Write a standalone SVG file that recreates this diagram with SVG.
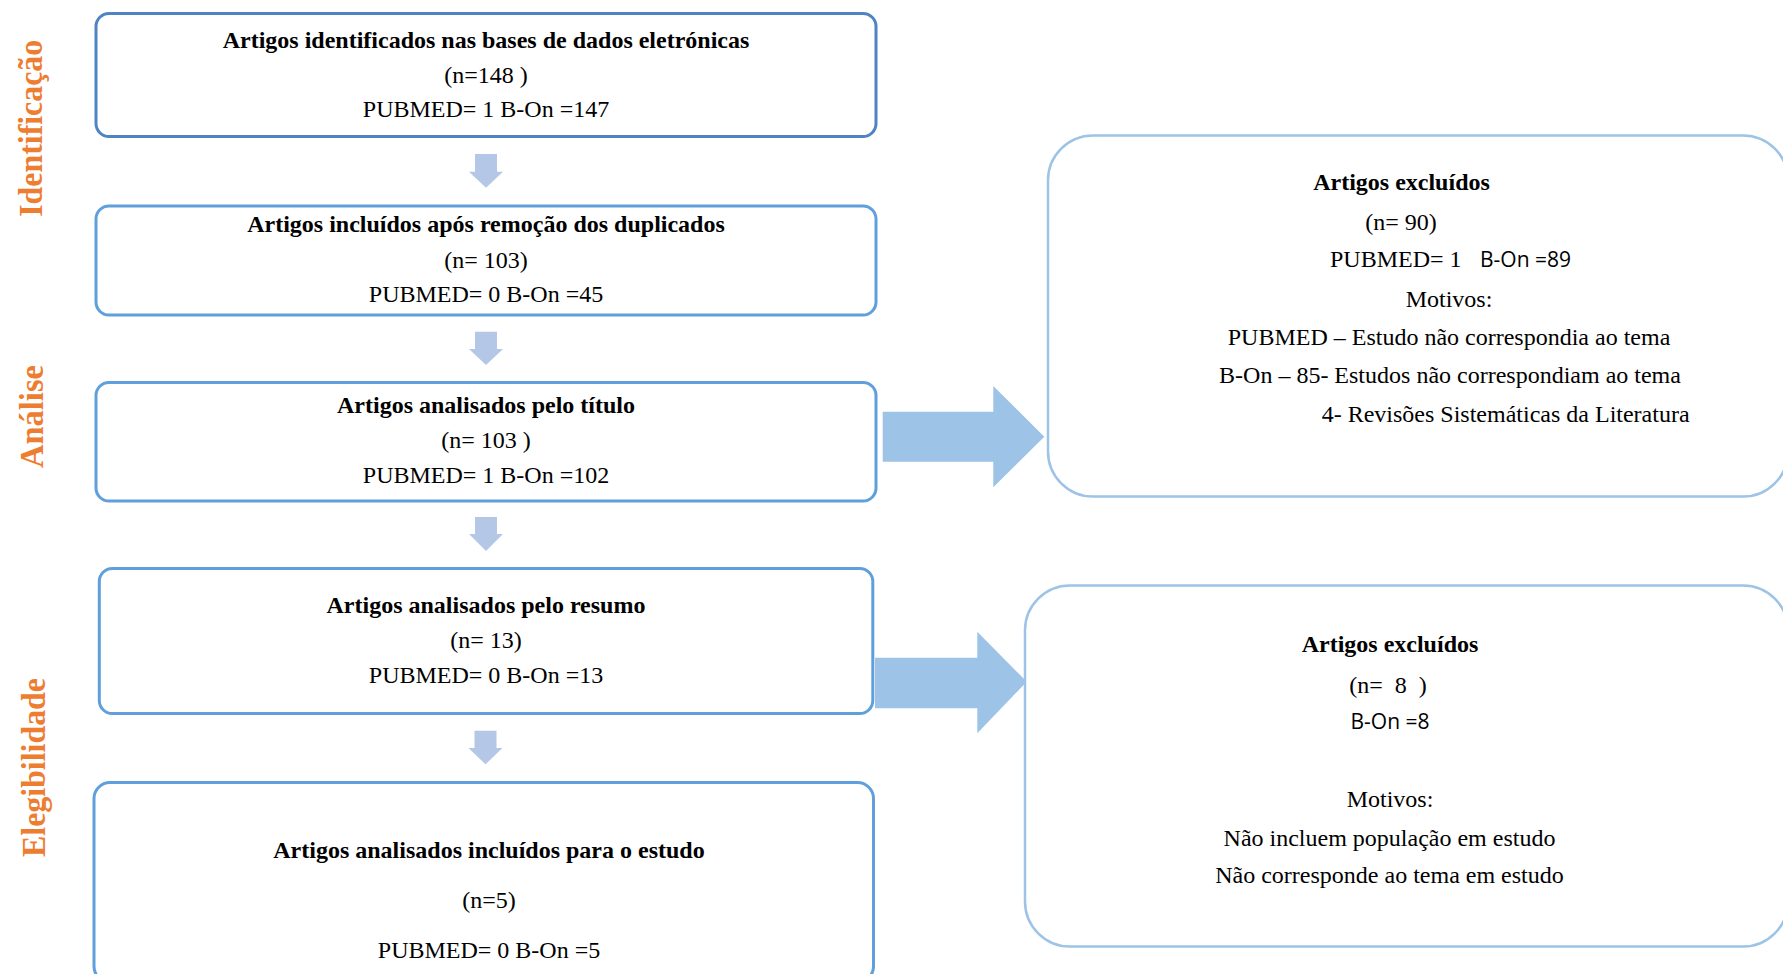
<svg xmlns="http://www.w3.org/2000/svg" width="1783" height="974" viewBox="0 0 1783 974">
<style>
.bg{fill:#ffffff}
.lbox{fill:#ffffff;stroke:#5FA0DC;stroke-width:3}
.lbox1{fill:#ffffff;stroke:#4E84C4;stroke-width:3}
.rbox{fill:#ffffff;stroke:#9DC3E6;stroke-width:2.5}
text{font-family:"Liberation Serif","Times New Roman",serif;font-size:24px;fill:#000000;white-space:pre}
.b{font-weight:bold}
.m{text-anchor:middle}
.sans{font-family:"Open Sans","Liberation Sans",sans-serif;font-size:21px}
.stage{font-weight:bold;font-size:33px;fill:#ED7D31;text-anchor:middle}
.down{fill:#B4C7E7}
.big{fill:#9DC3E6}
</style>
<rect class="bg" x="0" y="0" width="1783" height="974"/>

<g id="stage-labels">
<text class="stage" transform="translate(42,128.3) rotate(-90)" textLength="177" lengthAdjust="spacingAndGlyphs">Identificação</text>
<text class="stage" transform="translate(42.5,416.5) rotate(-90)" textLength="103" lengthAdjust="spacingAndGlyphs">Análise</text>
<text class="stage" transform="translate(45,767.5) rotate(-90)" textLength="179" lengthAdjust="spacingAndGlyphs">Elegibilidade</text>
</g>

<g id="connectors">
<polygon class="down" points="475,154 497,154 497,171.7 503,171.7 486,187.7 469,171.7 475,171.7"/>
<polygon class="down" points="475,331.7 497,331.7 497,349 503,349 486,365 469,349 475,349"/>
<polygon class="down" points="475,517 497,517 497,534 503,534 486,551 469,534 475,534"/>
<polygon class="down" points="474.5,730.7 496.5,730.7 496.5,748 502.5,748 485.5,764.3 468.5,748 474.5,748"/>
<polygon class="big" points="882.7,411.7 993.3,411.7 993.3,386 1044.3,436.7 993.3,487.3 993.3,461.7 882.7,461.7"/>
<polygon class="big" points="875,657.7 977.3,657.7 977.3,631.7 1026.7,681.7 977.3,733.3 977.3,708.3 875,708.3"/>
</g>

<g id="box-identificados">
<rect class="lbox1" x="96" y="13.5" width="780" height="123" rx="13"/>
<text class="b m" x="486" y="48.3">Artigos identificados nas bases de dados eletrónicas</text>
<text class="m" x="486" y="83.3">(n=148 )</text>
<text class="m" x="486" y="116.7">PUBMED= 1 B-On =147</text>
</g>

<g id="box-duplicados">
<rect class="lbox" x="96" y="206" width="780" height="109" rx="13"/>
<text class="b m" x="486" y="232.3">Artigos incluídos após remoção dos duplicados</text>
<text class="m" x="486" y="268.3">(n= 103)</text>
<text class="m" x="486" y="301.7">PUBMED= 0 B-On =45</text>
</g>

<g id="box-titulo">
<rect class="lbox" x="96" y="382.5" width="780" height="118.5" rx="13"/>
<text class="b m" x="486" y="413.3">Artigos analisados pelo título</text>
<text class="m" x="486" y="448.3">(n= 103 )</text>
<text class="m" x="486" y="483.3">PUBMED= 1 B-On =102</text>
</g>

<g id="box-resumo">
<rect class="lbox" x="99.3" y="568.5" width="773.5" height="145" rx="13"/>
<text class="b m" x="486" y="613.3">Artigos analisados pelo resumo</text>
<text class="m" x="486" y="648.3">(n= 13)</text>
<text class="m" x="486" y="682.7">PUBMED= 0 B-On =13</text>
</g>

<g id="box-incluidos">
<rect class="lbox" x="94" y="782.5" width="779.5" height="200" rx="16"/>
<text class="b m" x="489" y="858.3">Artigos analisados incluídos para o estudo</text>
<text class="m" x="489" y="908.3">(n=5)</text>
<text class="m" x="489" y="958.3">PUBMED= 0 B-On =5</text>
</g>

<g id="box-excluidos-1">
<rect class="rbox" x="1048" y="135.5" width="740" height="361" rx="45"/>
<text class="b m" x="1401.5" y="190">Artigos excluídos</text>
<text class="m" x="1401" y="230">(n= 90)</text>
<text x="1330" y="266.7">PUBMED= 1</text>
<text class="sans" x="1480" y="266.7">B-On =89</text>
<text class="m" x="1449" y="306.7">Motivos:</text>
<text class="m" x="1449" y="345">PUBMED – Estudo não correspondia ao tema</text>
<text class="m" x="1450" y="383.3">B-On – 85- Estudos não correspondiam ao tema</text>
<text x="1321.7" y="421.7">4- Revisões Sistemáticas da Literatura</text>
</g>

<g id="box-excluidos-2">
<rect class="rbox" x="1025" y="585.5" width="763" height="361" rx="45"/>
<text class="b m" x="1390" y="651.7">Artigos excluídos</text>
<text class="m" x="1388" y="693.3">(n=  8  )</text>
<text class="sans m" x="1390" y="729.3">B-On =8</text>
<text class="m" x="1390" y="807.3">Motivos:</text>
<text class="m" x="1389.5" y="846">Não incluem população em estudo</text>
<text class="m" x="1389.5" y="883.3">Não corresponde ao tema em estudo</text>
</g>
</svg>
